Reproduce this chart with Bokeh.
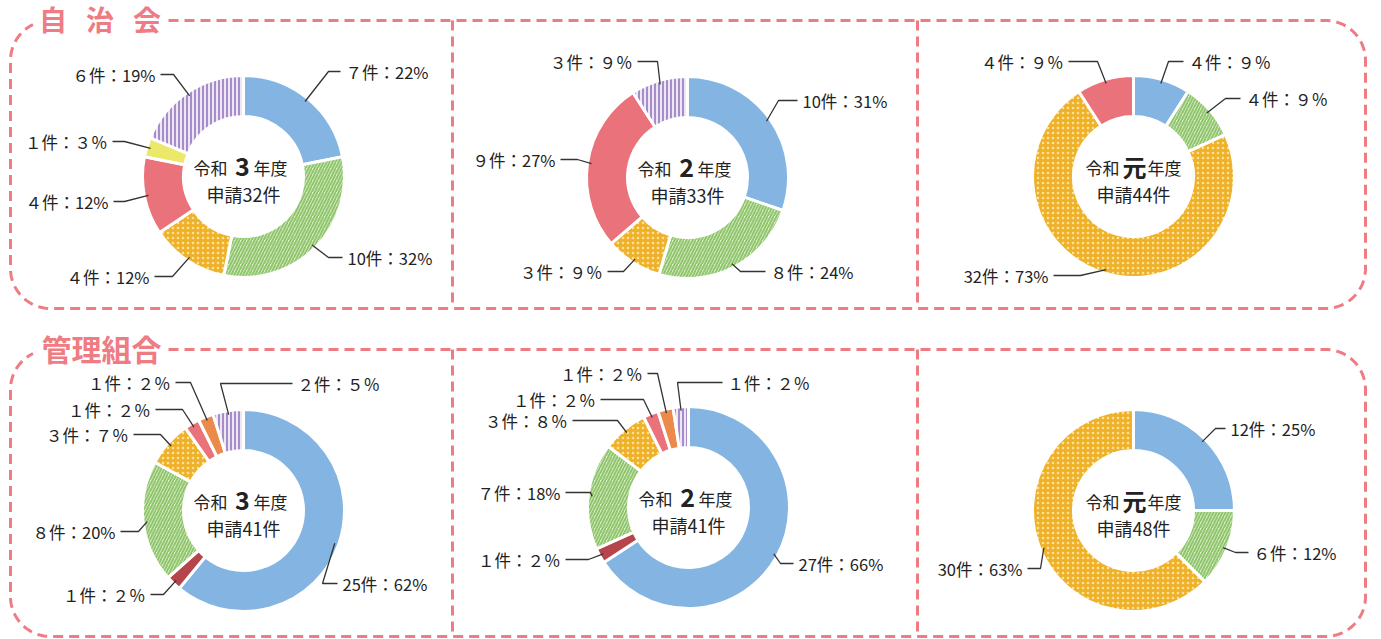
import numpy as np
from bokeh.plotting import figure
from bokeh.models import Range1d, ColumnDataSource
from bokeh.embed import file_html
from bokeh.resources import INLINE
from bokeh.core.properties import value

W, H = 1381, 639
FONT = "Noto Sans CJK JP"

# ---------------- data ----------------
group_titles = ["自治会", "管理組合"]
years = ["3", "2", "元", "3", "2", "元"]

cats_a = ["blue", "green", "orange", "pink", "yellow", "purple"]
counts_a = [7, 10, 4, 4, 1, 6]
pct_a = [22, 32, 12, 12, 3, 19]

cats_b = ["blue", "green", "orange", "pink", "purple"]
counts_b = [10, 8, 3, 9, 3]
pct_b = [31, 24, 9, 27, 9]

cats_c = ["blue", "green", "orange", "pink"]
counts_c = [4, 4, 32, 4]
pct_c = [9, 9, 73, 9]

cats_d = ["blue", "darkred", "green", "orange", "pink", "orange2", "purple"]
counts_d = [25, 1, 8, 3, 1, 1, 2]
pct_d = [62, 2, 20, 7, 2, 2, 5]

cats_e = ["blue", "darkred", "green", "orange", "pink", "orange2", "purple"]
counts_e = [27, 1, 7, 3, 1, 1, 1]
pct_e = [66, 2, 18, 8, 2, 2, 2]

cats_f = ["blue", "green", "orange"]
counts_f = [12, 6, 30]
pct_f = [25, 12, 63]

# ---------------- styles ----------------
STYLE = {
    "blue":    dict(fill="#84b5e2", hatch=" ", hcolor="#84b5e2", hscale=6, hweight=1),
    "green":   dict(fill="#dcefc6", hatch="/", hcolor="#8fc66e", hscale=6, hweight=2.0),
    "orange":  dict(fill="#efb12a", hatch=".", hcolor="#fbe3a0", hscale=5, hweight=1.6),
    "pink":    dict(fill="#e9727b", hatch=" ", hcolor="#e9727b", hscale=6, hweight=1),
    "yellow":  dict(fill="#ece96a", hatch=" ", hcolor="#ece96a", hscale=6, hweight=1),
    "purple":  dict(fill="#ede7f3", hatch="|", hcolor="#a68cc9", hscale=4, hweight=2.0),
    "darkred": dict(fill="#b5454b", hatch=" ", hcolor="#b5454b", hscale=6, hweight=1),
    "orange2": dict(fill="#ec8a4b", hatch=" ", hcolor="#ec8a4b", hscale=6, hweight=1),
}
PINK = "#ef7b83"
TEXT = "#222222"

# ---------------- layout (pixel coords, y down) ----------------
centers = [(243, 176), (687, 177), (1133, 176), (243, 510), (688, 507), (1133, 510)]
R_OUT, R_IN, R_LEAD = 101, 60, 97

# per slice: (elbow_x, elbow_y, end_x)
leaders = [
    [(328, 71, 340), (328, 257, 342), (172, 276, 154), (124, 201, 113), (124, 141, 112), (173, 74, 160)],
    [(778, 100, 797), (740, 271, 765), (623, 271, 607), (577, 159, 560), (657, 61, 637)],
    [(1168, 61, 1183), (1225, 98, 1240), (1080, 275, 1053), (1097, 61, 1068)],
    [(322, 583, 337), (163, 594, 150), (138, 531, 120), (160, 434, 133), (182, 409, 155), (190, 382, 175), (220, 383, 292)],
    [(780, 563, 793), (588, 559, 565), (590, 492, 565), (617, 420, 572), (643, 399, 600), (657, 373, 647), (677, 382, 722)],
    [(1215, 428, 1225), (1235, 552, 1248), (1040, 568, 1027)],
]

charts = [
    (cats_a, counts_a, pct_a), (cats_b, counts_b, pct_b), (cats_c, counts_c, pct_c),
    (cats_d, counts_d, pct_d), (cats_e, counts_e, pct_e), (cats_f, counts_f, pct_f),
]


def Y(py):
    return H - py


def fw(n):
    return chr(0xFF10 + n) if n < 10 else str(n)


def label(c, pc):
    return f"{fw(c)}件：{fw(pc)}{'％' if pc < 10 else '%'}"


p = figure(width=W, height=H, x_range=Range1d(0, W), y_range=Range1d(0, H),
           output_backend="svg", toolbar_location=None, min_border=0,
           x_axis_location=None, y_axis_location=None, outline_line_color=None,
           background_fill_color="white", border_fill_color="white")
p.grid.grid_line_color = None

# ---------------- dashed frames ----------------
def arc(cx, cy, r, a0, a1, n=30):
    t = np.radians(np.linspace(a0, a1, n))
    return list(cx + r * np.cos(t)), list(cy - r * np.sin(t))

def frame(top, bottom, left=10, right=1365, r=40, start_x=168):
    xs, ys = [start_x], [top]
    ax, ay = arc(right - r, top + r, r, 90, 0); xs += ax; ys += ay
    ax, ay = arc(right - r, bottom - r, r, 0, -90); xs += ax; ys += ay
    ax, ay = arc(left + r, bottom - r, r, -90, -180); xs += ax; ys += ay
    ax, ay = arc(left + r, top + r, r, 180, 116); xs += ax; ys += ay
    return xs, [Y(v) for v in ys]

for top, bottom in [(20, 308), (349, 636)]:
    fx, fy = frame(top, bottom)
    p.line(fx, fy, line_color=PINK, line_width=3, line_dash="10 6")
    for dx in (452, 917):
        p.line([dx, dx], [Y(top), Y(bottom)], line_color=PINK, line_width=3, line_dash="10 6")

# titles
t1 = list(group_titles[0])
p.text(x=[52.5, 99.5, 146.5], y=[Y(18)] * 3, text=t1, text_font=value(FONT),
       text_font_size="28px", text_font_style="bold", text_color=PINK,
       text_align="center", text_baseline="middle")
p.text(x=[41], y=[Y(347)], text=[group_titles[1]], text_font=value(FONT),
       text_font_size="30px", text_font_style="bold", text_color=PINK,
       text_align="left", text_baseline="middle")

# ---------------- donuts ----------------
for ci, ((cats, counts, pcts), (cx, cy), lead, yr) in enumerate(zip(charts, centers, leaders, years)):
    tot = sum(counts)
    cum = np.concatenate([[0], np.cumsum(counts)])
    start = np.pi / 2 - 2 * np.pi * cum[:-1] / tot
    end = np.pi / 2 - 2 * np.pi * cum[1:] / tot
    src = ColumnDataSource(dict(
        x=[cx] * len(cats), y=[Y(cy)] * len(cats), start=start, end=end,
        fill=[STYLE[c]["fill"] for c in cats],
        hatch=[STYLE[c]["hatch"] for c in cats],
        hcolor=[STYLE[c]["hcolor"] for c in cats],
        hscale=[STYLE[c]["hscale"] for c in cats],
        hweight=[STYLE[c]["hweight"] for c in cats],
    ))
    p.annular_wedge(x="x", y="y", inner_radius=R_IN, outer_radius=R_OUT,
                    start_angle="start", end_angle="end", direction="clock",
                    fill_color="fill", hatch_pattern="hatch", hatch_color="hcolor",
                    hatch_scale="hscale", hatch_weight="hweight",
                    line_color="white", line_width=3, source=src)

    # leaders + labels
    mids = (start + end) / 2
    for k, (m, (ex, ey, endx)) in enumerate(zip(mids, lead)):
        sx = cx + R_LEAD * np.cos(m)
        sy = Y(cy) + R_LEAD * np.sin(m)
        p.line([sx, ex, endx], [sy, Y(ey), Y(ey)], line_color="#333333", line_width=1.3)
        right = endx > ex
        p.text(x=[endx + (5 if right else -5)], y=[Y(ey)], text=[label(counts[k], pcts[k])],
               text_font=value(FONT), text_font_size="16.5px", text_color=TEXT,
               text_align="left" if right else "right", text_baseline="middle")

    # center text
    if yr == "元":
        lx, bx, rx, bsize = cx - 14, cx + 1, cx + 14, "24px"
    else:
        lx, bx, rx, bsize = cx - 16, cx - 1, cx + 10, "25px"
    y1 = Y(cy - 9)
    p.text(x=[lx], y=[y1], text=["令和"], text_font=value(FONT), text_font_size="17px",
           text_color=TEXT, text_align="right", text_baseline="middle")
    p.text(x=[bx], y=[y1 + 1], text=[yr], text_font=value(FONT), text_font_size=bsize,
           text_font_style="bold", text_color=TEXT, text_align="center", text_baseline="middle")
    p.text(x=[rx], y=[y1], text=["年度"], text_font=value(FONT), text_font_size="17px",
           text_color=TEXT, text_align="left", text_baseline="middle")
    p.text(x=[cx], y=[Y(cy + 17)], text=[f"申請{tot}件"], text_font=value(FONT),
           text_font_size="18px", text_color=TEXT, text_align="center", text_baseline="middle")

open("out.html", "w").write(file_html(p, INLINE))
